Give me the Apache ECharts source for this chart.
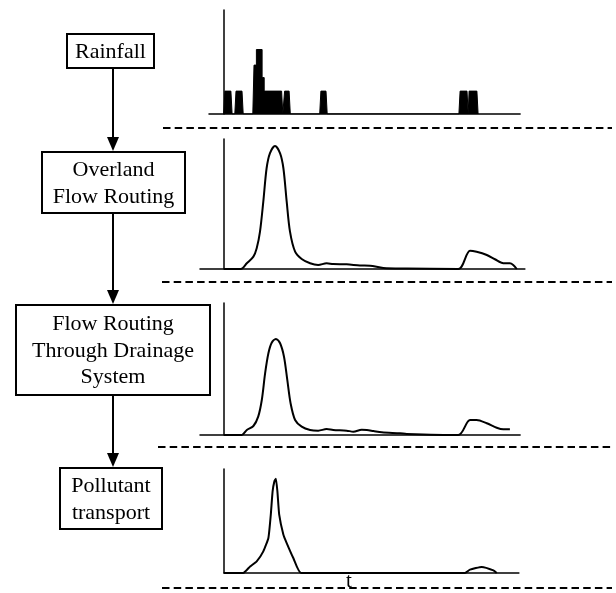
<!DOCTYPE html>
<html>
<head>
<meta charset="utf-8">
<script src="https://cdn.jsdelivr.net/npm/echarts@6/dist/echarts.min.js"></script>
<style>html,body{margin:0;padding:0;background:#fff}#c{width:616px;height:593px}</style>
</head>
<body>
<div id="c"></div>
<script>
// ---- Data (time in arbitrary units, values relative) ----
// Rainfall pulses: start time, end time, intensity
const rainStart = [0.3, 4.0, 10.0, 10.8, 12.7, 13.4, 20.2, 32.3, 78.7, 81.7];
const rainEnd   = [2.3, 6.0, 10.8, 12.7, 13.4, 19.2, 21.7, 34.0, 81.0, 84.3];
const rainValue = [2.2, 2.2, 4.7, 6.2, 3.5, 2.2, 2.2, 2.2, 2.2, 2.2];

// Overland flow hydrograph
const overlandT = [0, 5.6, 7.6, 9.8, 10.9, 12.0, 13.1, 14.2, 15.3, 17.0, 18.7, 19.8, 20.9, 22.0, 23.7, 25.9, 28.7, 31.4, 34.2, 36.4, 40.9, 45.3, 48.7, 53.1, 60.9, 78.1, 82.0, 84.2, 87.6, 90.3, 93.1, 95.3, 96.4, 97.6];
const overlandV = [0, 0, 4.4, 9.5, 15.9, 28.7, 51.8, 77.5, 89, 94.6, 89, 77.5, 51.8, 28.7, 13.3, 7.7, 4.4, 3.1, 4.4, 3.8, 3.6, 2.7, 2.5, 0.8, 0.4, 0, 14.1, 13.3, 10.8, 7.5, 4.4, 4.4, 3.1, 0];

// Flow routing through drainage system
const drainT = [0, 5.9, 7.6, 9.8, 11.4, 12.6, 13.7, 14.8, 15.9, 17.3, 18.7, 20.0, 21.1, 22.2, 23.7, 25.9, 28.7, 31.4, 34.2, 36.4, 40.9, 43.1, 45.9, 47.6, 49.8, 52.6, 58.7, 60.9, 78.1, 82.0, 84.2, 87.6, 90.9, 93.1, 95.3];
const drainV = [0, 0, 3.8, 6.8, 13.9, 26.5, 46.7, 61.9, 69.9, 72.7, 69.5, 59.3, 41.7, 24, 11.4, 6.3, 3.8, 3.3, 4.5, 3.8, 3.3, 2.5, 4, 3.8, 3, 2, 1.3, 0.8, 0, 11.4, 11.4, 8.9, 5.5, 4.3, 4.3];

// Pollutant transport (pollutograph)
const pollT = [0, 6.4, 8.7, 10.9, 13.1, 14.8, 15.6, 16.2, 16.8, 17.3, 17.8, 18.4, 19.8, 20.9, 23.1, 25.7, 80.3, 82.0, 85.9, 89.8, 90.9];
const pollV = [0, 0, 6.3, 11.2, 20.8, 33.7, 56.1, 78.5, 88.1, 90.7, 78.5, 56.1, 36.8, 28.8, 14.4, 0, 0, 3.2, 5.8, 2.5, 0];

const boxLabels = ['Rainfall', 'Overland\nFlow Routing', 'Flow Routing\nThrough Drainage\nSystem', 'Pollutant\ntransport'];
const axisName = 't';

// ---- Build ----
function zip(t, v) { return t.map((x, i) => [x, v[i]]); }
function rainPoints() {
  const pts = [];
  for (let i = 0; i < rainStart.length; i++) {
    const s = rainStart[i], e = rainEnd[i], h = rainValue[i];
    const touchPrev = i > 0 && Math.abs(rainEnd[i - 1] - s) < 1e-6;
    const touchNext = i < rainStart.length - 1 && Math.abs(rainStart[i + 1] - e) < 1e-6;
    if (!touchPrev) pts.push([s - 0.4, 0]);
    pts.push([s, h]);
    pts.push([e, h]);
    if (!touchNext) pts.push([e + 0.4, 0]);
  }
  return pts;
}

const panels = [
  { left: 209, top: 10, height: 104, xMin: -5, xMax: 98.7, yMax: 10 },
  { left: 200, top: 139, height: 130, xMin: -8, xMax: 100.3, yMax: 100 },
  { left: 200, top: 303, height: 132, xMin: -8, xMax: 98.7, yMax: 100 },
  { left: 224, top: 469, height: 104, xMin: 0, xMax: 98.3, yMax: 100 }
];
const PX = 3; // px per time unit

const axisStyle = { show: true, onZero: true, lineStyle: { color: '#000', width: 1.5 } };
const grids = [], xAxes = [], yAxes = [];
panels.forEach((p, i) => {
  grids.push({ left: p.left, top: p.top, width: (p.xMax - p.xMin) * PX, height: p.height, containLabel: false });
  xAxes.push({ type: 'value', gridIndex: i, min: p.xMin, max: p.xMax, axisLine: axisStyle, axisTick: { show: false }, axisLabel: { show: false }, splitLine: { show: false } });
  yAxes.push({ type: 'value', gridIndex: i, min: 0, max: p.yMax, axisLine: axisStyle, axisTick: { show: false }, axisLabel: { show: false }, splitLine: { show: false } });
});

const lineBase = { type: 'line', showSymbol: false, symbol: 'none', lineStyle: { color: '#000', width: 2 }, silent: true, animation: false };
const series = [
  Object.assign({}, lineBase, { xAxisIndex: 0, yAxisIndex: 0, data: rainPoints(), lineStyle: { color: '#000', width: 1 }, areaStyle: { color: '#000', opacity: 1 } }),
  Object.assign({}, lineBase, { xAxisIndex: 1, yAxisIndex: 1, data: zip(overlandT, overlandV), smooth: 0.3 }),
  Object.assign({}, lineBase, { xAxisIndex: 2, yAxisIndex: 2, data: zip(drainT, drainV), smooth: 0.3 }),
  Object.assign({}, lineBase, { xAxisIndex: 3, yAxisIndex: 3, data: zip(pollT, pollV), smooth: 0.15 })
];

// ---- Flowchart graphics ----
const FONT = '22px "Liberation Serif", "Times New Roman", serif';
const boxes = [
  { x: 67, y: 34, w: 87, h: 34 },
  { x: 42, y: 152, w: 143, h: 61 },
  { x: 16, y: 305, w: 194, h: 90 },
  { x: 60, y: 468, w: 102, h: 61 }
];
const graphic = [];
boxes.forEach((b, i) => {
  graphic.push({ type: 'rect', shape: { x: b.x, y: b.y, width: b.w, height: b.h }, style: { fill: '#fff', stroke: '#000', lineWidth: 2 }, z: 10 });
  graphic.push({ type: 'text', x: b.x + b.w / 2, y: b.y + b.h / 2 + 1, style: { text: boxLabels[i], font: FONT, fill: '#000', align: 'center', verticalAlign: 'middle', textAlign: 'center', textVerticalAlign: 'middle', lineHeight: 26.5 }, z: 11 });
});
const AX = 113;
for (let i = 0; i < boxes.length - 1; i++) {
  const y0 = boxes[i].y + boxes[i].h, tip = boxes[i + 1].y - 1;
  graphic.push({ type: 'line', shape: { x1: AX, y1: y0, x2: AX, y2: tip - 10 }, style: { stroke: '#000', lineWidth: 2 }, z: 10 });
  graphic.push({ type: 'polygon', shape: { points: [[AX - 6, tip - 14], [AX + 6, tip - 14], [AX, tip]] }, style: { fill: '#000' }, z: 10 });
}
[[163, 128], [162, 282], [158, 447], [162, 588]].forEach(([x, y]) => {
  graphic.push({ type: 'line', shape: { x1: x, y1: y, x2: 612, y2: y }, style: { stroke: '#000', lineWidth: 2, lineDash: [7.5, 4.2] }, z: 5 });
});
graphic.push({ type: 'text', x: 349, y: 581, style: { text: axisName, font: '21px "Liberation Serif", serif', fill: '#000', align: 'center', verticalAlign: 'middle', textAlign: 'center', textVerticalAlign: 'middle' }, z: 12 });

const chart = echarts.init(document.getElementById('c'), null, { renderer: 'canvas' });
chart.setOption({
  backgroundColor: '#fff',
  animation: false,
  grid: grids,
  xAxis: xAxes,
  yAxis: yAxes,
  series: series,
  graphic: graphic
});
</script>
</body>
</html>
